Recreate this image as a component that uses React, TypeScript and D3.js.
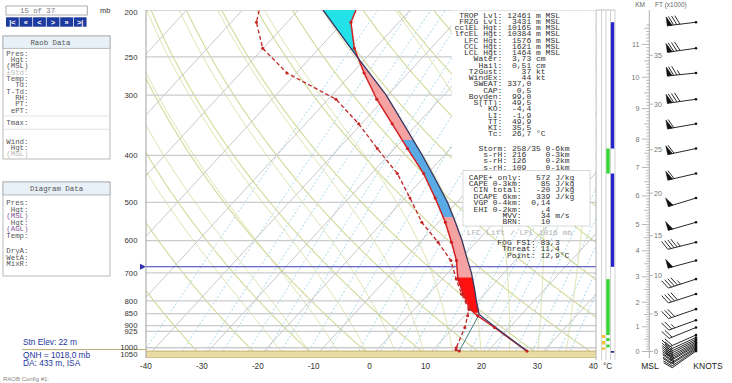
import React from "react";
import * as d3 from "d3";

// ---------------- data ----------------
const pressureLabels = [200, 250, 300, 400, 500, 600, 700, 800, 850, 900, 925, 1000, 1050];
const tempLabels = [-40, -30, -20, -10, 0, 10, 20, 30, 40];

const envP = [1016, 908, 859, 832, 774, 721, 660, 605, 550, 490, 436, 387, 344, 306, 270, 240, 212, 200];
const envT = [27.0, 17.3, 12.4, 9.9, 6.2, 2.8, -0.5, -4.4, -8.8, -14.6, -20.7, -27.7, -34.5, -41.3, -47.9, -53.7, -58.6, -59.7];

const dewP = [1016, 1010, 1000, 908, 859, 832, 774, 721, 660, 605, 550, 490, 436, 387, 344, 306, 270, 240, 212, 200];
const dewT = [14.9, 14.1, 13.8, 12.0, 10.6, 9.7, 5.9, 2.5, -1.5, -6.8, -13.0, -19.1, -25.4, -33.1, -40.5, -48.6, -61.7, -70.1, -75.5, -77.0];

const parcelP = [1016, 925, 853, 800, 750, 700, 650, 600, 550, 500, 450, 400, 350, 300, 250, 200];
const parcelT = [27.0, 19.1, 12.4, 9.7, 7.1, 4.2, 0.8, -2.8, -7.0, -11.7, -17.4, -23.9, -31.5, -40.3, -51.8, -65.6];

const surfaceP = 1016;
const lclP = 853;
const freezingP = 680;
const lfcP = 846;
const cape3kmP = 715;
const hailWarm = -10;
const hailCold = -30;

const windP = [1016, 1010, 1004, 998, 992, 986, 980, 974, 967, 960, 952, 941, 908, 877, 832, 774, 721, 660, 605, 550, 490, 436, 387, 344, 306, 270, 240, 212];
const windDir = [235, 236, 238, 238, 240, 240, 241, 242, 243, 244, 245, 246, 248, 250, 251, 252, 252, 255, 256, 254, 253, 257, 258, 260, 262, 264, 262, 263];
const windSpd = [10, 15, 15, 15, 20, 20, 20, 20, 20, 20, 20, 20, 20, 25, 30, 40, 45, 50, 45, 50, 50, 60, 60, 60, 80, 75, 80, 80];

const kmP = [1018, 905, 805, 713, 630, 556, 485, 423.5, 370, 320, 275.5, 235.6, 202];
const kmLabels = [0, 1, 2, 3, 4, 5, 6, 7, 8, 9, 10, 11];
const ftLabels = [0, 5, 10, 15, 20, 25, 30, 35];

const stripBlue = [[212, 387], [436, 680]];
const stripGreen = [[387, 436], [721, 941], [955, 968], [985, 998]];
const stripYellow = [[941, 955], [968, 985], [998, 1010]];
const stripNavy = [[1008, 1016]];

const isotherms = d3.range(-100, 41, 10);
const dryThetas = d3.range(230, 421, 10);
const moistStarts = [-15, -10, -5, 0, 5, 10, 15, 20, 25, 30, 35];
const mixRatios = [0.1, 0.2, 0.3, 0.4, 0.6, 0.8, 1, 1.5, 2, 3, 4, 5, 6, 8, 10, 12, 14, 16, 20, 24, 28, 32, 36];

const statLabels = ["TROP Lvl:", "FRZG Lvl:", "cclEL Hgt:", "lfcEL Hgt:", "LFC Hgt:", "CCL Hgt:", "LCL Hgt:", "Water:", "Hail:", "T2Gust:", "WindEx:", "SWEAT:", "CAP:", "Boyden:", "S(TT):", "KO:", "LI:", "TT:", "KI:", "Tc:"];
const statValues = ["12461", "3431", "10165", "10384", "1576", "1621", "1464", "3,73", "0,51", "37", "44", "337,0", "0,5", "99,0", "49,5", "-4,4", "-1,9", "49,9", "35,5", "26,7"];
const statUnits = ["m MSL", "m MSL", "m MSL", "m MSL", "m MSL", "m MSL", "m MSL", "cm", "cm", "kt", "kt", "", "", "", "", "", "", "", "", "°C"];

const stormLabels = ["Storm:", "s-rH:", "s-rH:", "s-rH:"];
const stormValues = ["258/35", "216", "126", "109"];
const stormUnits = ["0-6km", "0-3km", "0-2km", "0-1km"];

const capeLabels = ["CAPE+ only:", "CAPE 0-3km:", "CIN total:", "DCAPE 6km:", "VGP 0-4km:", "EHI 0-2km:", "MVV:", "BRN:"];
const capeValues = ["572", "85", "-20", "339", "0,14", ",4", "34", "10"];
const capeUnits = ["J/kg", "J/kg", "J/kg", "J/kg", "", "", "m/s", ""];

const fogLabels = ["FOG FSI:", "Threat:", "Point:"];
const fogValues = ["83,3", "11,4", "12,9°C"];

const raobLabels = ["Pres:", "Hgt:", "(MSL)", "±Std:", "Temp:", "Td:", "T-Td:", "RH:", "PT:", "ePT:"];
const diagLabels = ["Pres:", "Hgt:", "(MSL)", "Hgt:", "(AGL)", "Temp:"];
const diagLabels2 = ["DryA:", "WetA:", "MixR:"];
const navButtons = ["|<", "«", "<", ">", "»", ">|"];

// ---------------- geometry ----------------
const X0 = 146, X1 = 596, Y0 = 10, Y1 = 358;
const SKEW = 0.92;
const yP = d3.scaleLog().domain([200, 1050]).range([Y0, Y1]);
const xT = d3.scaleLinear().domain([-40, 40]).range([146, 593.3]);
const sx = (T: number, p: number) => xT(T) + SKEW * (Y1 - yP(p));

const MONO = "'Liberation Mono', 'DejaVu Sans Mono', monospace";
const SANS = "'Liberation Sans', Arial, sans-serif";

const pS = d3.range(0, 81).map((i) => 1050 * Math.pow(200 / 1050, i / 80));
const line = d3.line<number[]>().x((d) => d[0]).y((d) => d[1]);

function interp(P: number[], T: number[], p: number) {
  for (let i = 0; i < P.length - 1; i++) {
    const a = P[i], b = P[i + 1];
    if (p <= a && p >= b) {
      const f = Math.log(a / p) / Math.log(a / b);
      return T[i] + f * (T[i + 1] - T[i]);
    }
  }
  return NaN;
}

function es(Tc: number) {
  return 6.112 * Math.exp((17.67 * Tc) / (Tc + 243.5));
}

function moistPath(T0: number) {
  const pts: number[][] = [];
  let T = T0 + 273.15;
  let p = 1050;
  const n = 120;
  const dp = (200 - 1050) / n;
  const f = (TT: number, pp: number) => {
    const e = es(TT - 273.15);
    const rs = (0.622 * e) / (pp - e);
    return (287 * TT + 2.5e6 * rs) / (pp * (1004 + (2.5e6 * 2.5e6 * rs * 0.622) / (287 * TT * TT)));
  };
  pts.push([sx(T - 273.15, p), yP(p)]);
  for (let i = 0; i < n; i++) {
    const k1 = f(T, p);
    const k2 = f(T + (k1 * dp) / 2, p + dp / 2);
    T += k2 * dp;
    p += dp;
    pts.push([sx(T - 273.15, p), yP(p)]);
  }
  return line(pts) as string;
}

function mixPath(w: number) {
  const pts = pS.map((p) => {
    const e = (w * p) / (622 + w);
    const l = Math.log(e / 6.112);
    const td = (243.5 * l) / (17.67 - l);
    return [sx(td, p), yP(p)];
  });
  return line(pts) as string;
}

function dryPath(theta: number) {
  return line(pS.map((p) => [sx(theta * Math.pow(p / 1000, 0.2857) - 273.15, p), yP(p)])) as string;
}

function profilePts(P: number[], T: number[]) {
  return P.map((p, i) => [sx(T[i], p), yP(p)]);
}

function findCross(fn: (p: number) => number, pa: number, pb: number) {
  let prev = fn(pa);
  const n = 400;
  for (let i = 1; i <= n; i++) {
    const p = pa * Math.pow(pb / pa, i / n);
    const v = fn(p);
    if (prev > 0 && v <= 0) return p;
    prev = v;
  }
  return pb;
}

function band(pa: number, pb: number) {
  const n = 40;
  const set = new Set<number>();
  d3.range(n + 1).forEach((i) => set.add(pa * Math.pow(pb / pa, i / n)));
  [...envP, ...parcelP].forEach((p) => {
    if (p < pa && p > pb) set.add(p);
  });
  const ps = Array.from(set).sort((a, b) => b - a);
  const left = ps.map((p) => [sx(interp(envP, envT, p), p), yP(p)]);
  const right = ps.map((p) => [sx(interp(parcelP, parcelT, p), p), yP(p)]).reverse();
  return "M" + [...left, ...right].map((d) => d[0].toFixed(2) + "," + d[1].toFixed(2)).join("L") + "Z";
}

function kmToP(z: number) {
  const i = Math.min(Math.floor(z), kmP.length - 2);
  const f = z - i;
  return Math.exp(Math.log(kmP[i]) + f * (Math.log(kmP[i + 1]) - Math.log(kmP[i])));
}

function barb(cx: number, cy: number, dir: number, spd: number) {
  const L = 29;
  const r = (dir * Math.PI) / 180;
  const ux = Math.sin(r), uy = -Math.cos(r);
  const nx = -uy, ny = ux;
  const fx = 0.42 * ux + 0.91 * nx, fy = 0.42 * uy + 0.91 * ny;
  let d = `M${cx},${cy}L${cx + ux * L},${cy + uy * L}`;
  const flags: string[] = [];
  let s = Math.round(spd / 5) * 5;
  const nFlags = Math.floor(s / 50);
  s -= nFlags * 50;
  const nFull = Math.floor(s / 10);
  s -= nFull * 10;
  const half = s >= 5;
  let pos = L;
  for (let i = 0; i < nFlags; i++) {
    const bx = cx + ux * pos, by = cy + uy * pos;
    const ex = cx + ux * (pos - 5), ey = cy + uy * (pos - 5);
    flags.push(`M${bx},${by}L${bx + nx * 9},${by + ny * 9}L${ex},${ey}Z`);
    pos -= 5;
  }
  if (nFlags) pos -= 1.5;
  for (let i = 0; i < nFull; i++) {
    const bx = cx + ux * pos, by = cy + uy * pos;
    d += `M${bx},${by}L${bx + fx * 10},${by + fy * 10}`;
    pos -= 3.2;
  }
  if (half) {
    if (nFlags === 0 && nFull === 0) pos -= 3.2;
    const bx = cx + ux * pos, by = cy + uy * pos;
    d += `M${bx},${by}L${bx + fx * 5},${by + fy * 5}`;
  }
  return { d, flags };
}

export default function App() {
  const elP = findCross((p) => interp(parcelP, parcelT, p) - interp(envP, envT, p), 500, 200);
  const hailBottomP = findCross((p) => interp(envP, envT, p) - hailWarm, 700, 300);
  const hailTopP = findCross((p) => interp(envP, envT, p) - hailCold, 500, 250);

  const envPts = profilePts(envP, envT);
  const dewPts = profilePts(dewP, dewT);
  const parcelPts = profilePts(parcelP, parcelT);
  const lclPt = [sx(interp(parcelP, parcelT, lclP), lclP), yP(lclP)];
  const sfcDew = [sx(dewT[0], dewP[0]), yP(dewP[0])];
  const yS = yP(surfaceP);
  const yF = yP(freezingP);

  const kmMinor = d3.range(0, 117).map((i) => i / 10);
  const stationX = 696;

  const statX = 454.4;
  const FS = 8;

  return (
    <svg width={732} height={383} viewBox="0 0 732 383" style={{ position: "absolute", left: 0, top: 0, background: "#fff", display: "block" }}>
      <defs>
        <clipPath id="plotClip">
          <rect x={X0} y={Y0} width={X1 - X0} height={Y1 - Y0} />
        </clipPath>
      </defs>
      <rect x={0} y={0} width={732} height={383} fill="#fff" />

      {/* ---------- plot background ---------- */}
      <g clipPath="url(#plotClip)">
        {mixRatios.map((w) => (
          <path key={"w" + w} d={mixPath(w)} fill="none" stroke="#8fcbe6" strokeWidth={0.8} strokeDasharray="2,2" />
        ))}
        {moistStarts.map((t) => (
          <path key={"m" + t} d={moistPath(t)} fill="none" stroke="#dfe4b0" strokeWidth={1} />
        ))}
        {dryThetas.map((th) => (
          <path key={"d" + th} d={dryPath(th)} fill="none" stroke="#d3da98" strokeWidth={1.1} />
        ))}
        {isotherms.map((t) => (
          <line key={"t" + t} x1={sx(t, 1050)} y1={yP(1050)} x2={sx(t, 200)} y2={yP(200)} stroke="#bbbbbb" strokeWidth={0.8} />
        ))}
        {pressureLabels.map((p) => (
          <line key={"p" + p} x1={X0} x2={X1} y1={yP(p)} y2={yP(p)} stroke="#cbcbcb" strokeWidth={1.3} />
        ))}
        {/* surface band */}
        <rect x={X0} y={yS} width={X1 - X0} height={Y1 - yS} fill="#e8dba4" />
        <line x1={X0} x2={X1} y1={yS} y2={yS} stroke="#c4b270" strokeWidth={1} />
        <line x1={X0} x2={X1} y1={Y1} y2={Y1} stroke="#b8aa78" strokeWidth={1} />
        {/* freezing level */}
        <line x1={X0} x2={X1} y1={yF} y2={yF} stroke="#3a3ab8" strokeWidth={1.1} />

        {/* CAPE / CIN shading */}
        <path d={band(lfcP, cape3kmP)} fill="#ff1010" />
        <path d={band(cape3kmP, hailBottomP)} fill="#f4a2a2" />
        <path d={band(hailBottomP, hailTopP)} fill="#5aaae6" />
        <path d={band(hailTopP, elP)} fill="#f4a2a2" />
        <path d={band(elP, 200)} fill="#22e2e8" />

        {/* lines */}
        <path d={line(envPts) as string} fill="none" stroke="#d42020" strokeWidth={1.5} />
        <path d={line(parcelPts) as string} fill="none" stroke="#363660" strokeWidth={1.3} />
        <path d={line([sfcDew, lclPt]) as string} fill="none" stroke="#3f8080" strokeWidth={1} />
        <path d={line(dewPts) as string} fill="none" stroke="#c42626" strokeWidth={1.3} strokeDasharray="4,2.5" />
        {envPts.slice(0, -1).map((d, i) => (
          <circle key={"ed" + i} cx={d[0]} cy={d[1]} r={1.6} fill="#cc1f1f" />
        ))}
        {dewPts.slice(0, -1).map((d, i) => (
          <circle key={"dd" + i} cx={d[0]} cy={d[1]} r={1.5} fill="#c42626" />
        ))}
      </g>

      {/* freezing arrow */}
      <path d={`M${X0 - 6},${yF - 3}L${X0},${yF}L${X0 - 6},${yF + 3}Z`} fill="#3030b0" />

      {/* plot borders */}
      <line x1={X0} x2={X0} y1={Y0} y2={Y1} stroke="#a0a0a0" strokeWidth={1} />
      <line x1={X1} x2={X1} y1={Y0} y2={Y1 + 2} stroke="#b0b0b0" strokeWidth={1} />
      <line x1={22} x2={X0} y1={yS - 1.5} y2={yS - 1.5} stroke="#b9ad72" strokeWidth={1} />

      {/* pressure labels */}
      <text x={100} y={13} fontFamily={SANS} fontSize={7.5} fill="#333">mb</text>
      {pressureLabels.map((p) => {
        let y = yP(p);
        if (p === 200) y = 12;
        if (p === 1050) y = 354.5;
        return (
          <text key={"pl" + p} x={137.5} y={y} dy="0.35em" textAnchor="end" fontFamily={SANS} fontSize={7.8} fill="#333">
            {p}
          </text>
        );
      })}
      {tempLabels.map((t) => (
        <text key={"tl" + t} x={xT(t)} y={369} textAnchor="middle" fontFamily={SANS} fontSize={8.2} fill="#333">
          {t}
        </text>
      ))}

      {/* ---------- stats text ---------- */}
      <rect x={452} y={10.6} width={143.4} height={160} fill="#fff" />
      {statLabels.map((l, i) => (
        <text key={"s" + i} x={statX} y={15 + i * 6.25 + 2.6} fontFamily={MONO} fontSize={FS} fill="#333" xmlSpace="preserve" style={{ whiteSpace: "pre" }}>
          {l.padStart(10) + " " + statValues[i].padStart(5) + " " + statUnits[i]}
        </text>
      ))}
      {stormLabels.map((l, i) => (
        <text key={"st" + i} x={statX} y={148 + i * 6.4 + 2.6} fontFamily={MONO} fontSize={FS} fill="#333" xmlSpace="preserve" style={{ whiteSpace: "pre" }}>
          {l.padStart(11) + " " + stormValues[i].padEnd(6) + " " + stormUnits[i]}
        </text>
      ))}
      <rect x={463} y={170.5} width={127} height={55.5} fill="#fff" stroke="#cfcfcf" strokeWidth={0.8} />
      {capeLabels.map((l, i) => (
        <text key={"c" + i} x={statX} y={177 + i * 6.4 + 2.6} fontFamily={MONO} fontSize={FS} fill="#333" xmlSpace="preserve" style={{ whiteSpace: "pre" }}>
          {l.padStart(14) + " " + capeValues[i].padStart(5) + " " + capeUnits[i]}
        </text>
      ))}
      <text x={466.7} y={234.6} fontFamily={MONO} fontSize={FS} fill="#b0b0b0" xmlSpace="preserve" style={{ whiteSpace: "pre" }}>
        LFC Lift / LPL 1016 mb
      </text>
      {fogLabels.map((l, i) => (
        <text key={"f" + i} x={497.3} y={242 + i * 6.5 + 2.6} fontFamily={MONO} fontSize={FS} fill="#333" xmlSpace="preserve" style={{ whiteSpace: "pre" }}>
          {l.padStart(8) + " " + fogValues[i]}
        </text>
      ))}

      {/* ---------- right strip ---------- */}
      <line x1={596} x2={615} y1={Y0} y2={Y0} stroke="#c0c0c0" />
      {[601.5, 606, 610.5, 615].map((x) => (
        <line key={"sl" + x} x1={x} x2={x} y1={Y0} y2={Y1 + 2} stroke="#c8c8c8" strokeWidth={0.8} />
      ))}
      {stripYellow.map((s, i) => (
        <rect key={"sy" + i} x={601.9} y={yP(s[0])} width={3.3} height={yP(s[1]) - yP(s[0])} fill="#f0c23a" />
      ))}
      {stripGreen.map((s, i) => (
        <rect key={"sg" + i} x={606.3} y={yP(s[0])} width={3.4} height={yP(s[1]) - yP(s[0])} fill="#33d633" />
      ))}
      {stripBlue.map((s, i) => (
        <rect key={"sb" + i} x={610.8} y={yP(s[0])} width={3.4} height={yP(s[1]) - yP(s[0])} fill="#2424c8" />
      ))}
      {stripNavy.map((s, i) => (
        <rect key={"sn" + i} x={610.8} y={yP(s[1])} width={3.4} height={1.6} fill="#1a1a80" />
      ))}
      <text x={607.5} y={369} textAnchor="middle" fontFamily={SANS} fontSize={8.2} fill="#333">°C</text>

      {/* ---------- height axis ---------- */}
      <line x1={649.3} x2={649.3} y1={Y0} y2={Y1} stroke="#9a9a9a" strokeWidth={0.8} />
      {kmMinor.map((z) => {
        const y = yP(kmToP(z));
        const isKm = Math.abs(z - Math.round(z)) < 1e-6;
        const isHalf = Math.abs(z * 2 - Math.round(z * 2)) < 1e-6;
        const len = isKm ? 7.5 : isHalf ? 5 : 3;
        return <line key={"km" + z} x1={649.3 - len} x2={649.3} y1={y} y2={y} stroke="#9a9a9a" strokeWidth={0.7} />;
      })}
      {kmLabels.map((k) => (
        <text key={"kl" + k} x={639.5} y={yP(kmP[k])} dy="0.35em" textAnchor="end" fontFamily={SANS} fontSize={7.2} fill="#777">
          {k}
        </text>
      ))}
      {ftLabels.map((f) => {
        const y = yP(kmToP((f * 1000 * 0.3048) / 1000));
        return (
          <g key={"ft" + f}>
            <line x1={649.3} x2={653} y1={y} y2={y} stroke="#9a9a9a" strokeWidth={0.7} />
            <text x={654} y={y} dy="0.35em" fontFamily={SANS} fontSize={7.2} fill="#777">
              {f}
            </text>
          </g>
        );
      })}
      <text x={640} y={7} textAnchor="middle" fontFamily={SANS} fontSize={6.5} fill="#666">KM</text>
      <text x={655} y={7} fontFamily={SANS} fontSize={6.5} fill="#666">FT (x1000)</text>
      <text x={650} y={369} textAnchor="middle" fontFamily={SANS} fontSize={8.5} fill="#222">MSL</text>
      <text x={708} y={369} textAnchor="middle" fontFamily={SANS} fontSize={8.5} fill="#222">KNOTS</text>

      {/* ---------- wind barbs ---------- */}
      {windP.map((p, i) => {
        const b = barb(stationX, yP(p), windDir[i], windSpd[i]);
        return (
          <g key={"wb" + i}>
            <path d={b.d} fill="none" stroke="#111" strokeWidth={0.9} />
            {b.flags.map((f, j) => (
              <path key={j} d={f} fill="#111" stroke="#111" strokeWidth={0.5} />
            ))}
            <circle cx={stationX} cy={yP(p)} r={1.3} fill="#111" />
          </g>
        );
      })}

      {/* ---------- left panels ---------- */}
      <rect x={6} y={6} width={81.3} height={9} fill="#fff" stroke="#9a9a9a" strokeWidth={0.8} />
      <text x={20} y={13.2} fontFamily={MONO} fontSize={7.3} fill="#777" xmlSpace="preserve" style={{ whiteSpace: "pre" }}>15 of 37</text>
      {navButtons.map((b, i) => (
        <g key={"nb" + i}>
          <rect x={6 + i * 13.55} y={17.3} width={12.8} height={9.4} fill="#1d3a9e" />
          <text x={6 + i * 13.55 + 6.4} y={24.6} textAnchor="middle" fontFamily={SANS} fontSize={7.5} fontWeight="bold" fill="#fff">
            {b}
          </text>
        </g>
      ))}

      <rect x={3} y={36} width={107} height={123} fill="#fff" stroke="#a8a8a8" strokeWidth={0.8} />
      <rect x={3} y={36} width={107} height={12.3} fill="#e9f1f8" stroke="#a8a8a8" strokeWidth={0.8} />
      <text x={50.4} y={44.9} textAnchor="middle" fontFamily={MONO} fontSize={7.4} fill="#555">Raob Data</text>
      {raobLabels.map((l, i) => (
        <text key={"rl" + i} x={28.5} y={53 + i * 6.37 + 2.5} textAnchor="end" fontFamily={MONO} fontSize={7.4} fill={l === "±Std:" ? "#bbbbbb" : "#555"}>
          {l}
        </text>
      ))}
      <line x1={3} x2={110} y1={116} y2={116} stroke="#dddddd" strokeWidth={0.8} />
      <text x={28.5} y={124.8} textAnchor="end" fontFamily={MONO} fontSize={7.4} fill="#555">Tmax:</text>
      <line x1={3} x2={110} y1={129.3} y2={129.3} stroke="#dddddd" strokeWidth={0.8} />
      <text x={28.5} y={143.5} textAnchor="end" fontFamily={MONO} fontSize={7.4} fill="#555">Wind:</text>
      <text x={28.5} y={149.8} textAnchor="end" fontFamily={MONO} fontSize={7.4} fill="#555">Hgt:</text>
      <text x={28.5} y={156.2} textAnchor="end" fontFamily={MONO} fontSize={7.4} fill="#bbbbbb">(MSL)</text>

      <rect x={3} y={182} width={107} height={94} fill="#fff" stroke="#a8a8a8" strokeWidth={0.8} />
      <rect x={3} y={182} width={107} height={13} fill="#e9f1f8" stroke="#a8a8a8" strokeWidth={0.8} />
      <text x={56.5} y={191.2} textAnchor="middle" fontFamily={MONO} fontSize={7.4} fill="#555">Diagram Data</text>
      {diagLabels.map((l, i) => (
        <text key={"dl" + i} x={28.5} y={202.7 + i * 6.5 + 2.5} textAnchor="end" fontFamily={MONO} fontSize={7.4} fill={l.startsWith("(") ? "#8a5a9a" : "#555"}>
          {l}
        </text>
      ))}
      {diagLabels2.map((l, i) => (
        <text key={"dl2" + i} x={28.5} y={250.5 + i * 6.7 + 2.5} textAnchor="end" fontFamily={MONO} fontSize={7.4} fill="#555">
          {l}
        </text>
      ))}

      <text x={23} y={345.3} fontFamily={SANS} fontSize={8.3} fill="#23369a">Stn Elev: 22 m</text>
      <text x={23} y={358} fontFamily={SANS} fontSize={8.3} fill="#23369a">QNH = 1018,0 mb</text>
      <text x={23} y={365.8} fontFamily={SANS} fontSize={8.3} fill="#23369a">DA: 433 m, ISA</text>
      <text x={3} y={381} fontFamily={SANS} fontSize={6} fill="#888">RAOB Config #1:</text>
    </svg>
  );
}
